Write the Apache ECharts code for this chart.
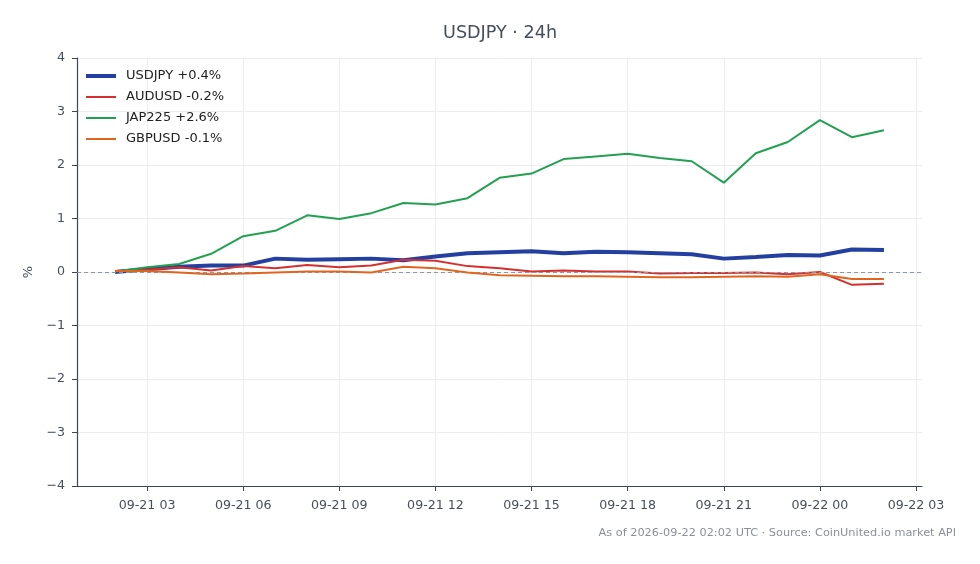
<!DOCTYPE html>
<html>
<head>
<meta charset="utf-8">
<script src="https://cdn.jsdelivr.net/npm/echarts@6/dist/echarts.min.js"></script>
<style>html,body{margin:0;padding:0;background:#fff}#c{width:980px;height:564px}</style>
</head>
<body>
<div id="c"></div>
<script>
// hourly timestamps 09-21 02:00 .. 09-22 02:00 UTC
const startTime = Date.UTC(2026, 8, 21, 2, 0, 0);
const hours = 25;
const seriesNames = ['USDJPY +0.4%', 'AUDUSD -0.2%', 'JAP225 +2.6%', 'GBPUSD -0.1%'];
const usdjpy = [0.00, 0.05, 0.10, 0.12, 0.12, 0.25, 0.23, 0.24, 0.25, 0.22, 0.29, 0.35, 0.37, 0.39, 0.35, 0.38, 0.37, 0.35, 0.33, 0.25, 0.28, 0.32, 0.31, 0.42, 0.41];
const audusd = [0.02, 0.04, 0.09, 0.03, 0.11, 0.07, 0.13, 0.09, 0.12, 0.23, 0.21, 0.11, 0.07, 0.01, 0.03, 0.01, 0.01, -0.03, -0.02, -0.02, -0.01, -0.04, 0.00, -0.24, -0.22];
const jap225 = [0.01, 0.09, 0.15, 0.34, 0.67, 0.77, 1.06, 0.99, 1.10, 1.29, 1.26, 1.38, 1.76, 1.84, 2.11, 2.16, 2.21, 2.13, 2.07, 1.67, 2.22, 2.43, 2.84, 2.52, 2.65];
const gbpusd = [0.02, 0.02, -0.01, -0.04, -0.03, -0.01, 0.01, 0.01, -0.01, 0.10, 0.07, -0.01, -0.06, -0.07, -0.08, -0.08, -0.09, -0.10, -0.10, -0.09, -0.08, -0.09, -0.04, -0.13, -0.13];
const yTicks = [-4, -3, -2, -1, 0, 1, 2, 3, 4];
// x tick labels every 3 hours (UTC), hours from 09-21 00:00
const xTickHours = [3, 6, 9, 12, 15, 18, 21, 24, 27];
const colors = ['#2340a0', '#d33030', '#23a052', '#e0661f'];
const widths = [4, 2, 2, 2];

const times = [];
for (let i = 0; i < hours; i++) times.push(startTime + i * 3600 * 1000);
const xTicks = xTickHours.map(h => Date.UTC(2026, 8, 21, 0, 0, 0) + h * 3600 * 1000);
const allValues = [usdjpy, audusd, jap225, gbpusd];

function pad(n) { return (n < 10 ? '0' : '') + n; }
function fmtTime(v) {
  const d = new Date(v);
  return pad(d.getUTCMonth() + 1) + '-' + pad(d.getUTCDate()) + ' ' + pad(d.getUTCHours());
}
const span = times[times.length - 1] - times[0];
const xMin = times[0] - span * 0.0495;
const xMax = times[times.length - 1] + span * 0.0495;

const thickIcon = 'path://M0,0h30v0.01h-30z M0,5h30v4h-30z M0,13.99h30v0.01h-30z';
const thinIcon = 'path://M0,0h30v0.01h-30z M0,6h30v2h-30z M0,13.99h30v0.01h-30z';

const font = 'DejaVu Sans';
const chart = echarts.init(document.getElementById('c'));
const series = allValues.map((vals, k) => ({
  name: seriesNames[k],
  type: 'line',
  symbol: 'none',
  data: vals.map((v, i) => [times[i], v]),
  lineStyle: { width: widths[k], color: colors[k] },
  itemStyle: { color: colors[k] },
  z: 3 + k,
  markLine: k === 0 ? {
    silent: true, symbol: 'none', label: { show: false },
    lineStyle: { type: [4, 3], color: '#8c97a8', width: 1 },
    data: [{ yAxis: 0 }]
  } : undefined
}));
chart.setOption({
  animation: false,
  textStyle: { fontFamily: font },
  title: {
    text: 'USDJPY · 24h', left: 438, top: 19,
    textStyle: { fontFamily: font, fontSize: 17.6, fontWeight: 'normal', color: '#454f5b' }
  },
  legend: {
    orient: 'vertical', left: 81, top: 64,
    itemWidth: 30, itemHeight: 14, itemGap: 7,
    textStyle: { fontFamily: font, fontSize: 13, color: '#222', padding: [0, 0, 0, 5] },
    data: seriesNames.map((n, k) => ({ name: n, icon: k === 0 ? thickIcon : thinIcon }))
  },
  grid: { left: 77, right: 58, top: 58, bottom: 78 },
  xAxis: {
    type: 'value', min: xMin, max: xMax, scale: true,
    axisLine: { onZero: false, lineStyle: { color: '#3a4654', width: 1.2 } },
    axisTick: { show: true, length: 5, lineStyle: { color: '#3a4654' }, customValues: xTicks },
    axisLabel: { formatter: fmtTime, color: '#454f5b', fontSize: 12.6, margin: 13, fontFamily: font, hideOverlap: false, customValues: xTicks },
    splitLine: { show: true, lineStyle: { color: '#ebedf0', width: 1 } }
  },
  yAxis: {
    type: 'value', min: yTicks[0], max: yTicks[yTicks.length - 1], interval: 1,
    name: '%', nameLocation: 'middle', nameGap: 40, nameRotate: 90,
    nameTextStyle: { color: '#454f5b', fontSize: 13, fontFamily: font },
    axisLine: { show: true, lineStyle: { color: '#3a4654', width: 1.2 } },
    axisTick: { show: true, length: 5, lineStyle: { color: '#3a4654' } },
    axisLabel: { formatter: v => (v < 0 ? '\u2212' + Math.abs(v) : String(v)), color: '#454f5b', fontSize: 12.6, margin: 12, fontFamily: font },
    splitLine: { show: true, lineStyle: { color: '#ebedf0', width: 1 } }
  },
  graphic: [{
    type: 'text', right: 24, top: 528,
    style: { text: 'As of 2026-09-22 02:02 UTC · Source: CoinUnited.io market API', fill: '#8a9099', fontSize: 11.3, fontFamily: font, textAlign: 'right' }
  }],
  series: series
});
</script>
</body>
</html>
